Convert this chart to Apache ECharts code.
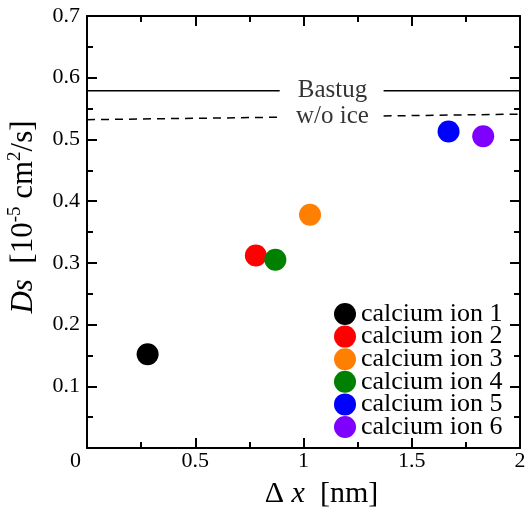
<!DOCTYPE html>
<html>
<head>
<meta charset="utf-8">
<script src="https://cdn.jsdelivr.net/npm/echarts@6/dist/echarts.min.js"></script>
<style>
  html, body { margin: 0; padding: 0; background: #fff; }
  #chart { width: 525px; height: 509px; }
</style>
</head>
<body>
<div id="chart"></div>
<script>
// ion data: [delta x (nm), Ds (1e-5 cm2/s)]
var ionNames = ['calcium ion 1', 'calcium ion 2', 'calcium ion 3', 'calcium ion 4', 'calcium ion 5', 'calcium ion 6'];
var ionColors = ['#000000', '#ff0000', '#ff8000', '#008000', '#0000ff', '#8000ff'];
var ionPoints = [[0.28, 0.152], [0.78, 0.312], [1.03, 0.378], [0.87, 0.305], [1.67, 0.513], [1.83, 0.505]];

// reference lines (split round their labels)
var bastugLeft = [[0, 0.579], [0.89, 0.579]];
var bastugRight = [[1.37, 0.579], [2, 0.579]];
var woIceLeft = [[0, 0.532], [0.89, 0.536]];
var woIceRight = [[1.37, 0.538], [2, 0.541]];
var lineLabels = [['Bastug', 1.134, 0.58], ['w/o ice', 1.134, 0.537]];

var xTicks = [0, 0.5, 1, 1.5, 2];
var yTicks = [0, 0.1, 0.2, 0.3, 0.4, 0.5, 0.6, 0.7];

var FONT = 'Liberation Serif';

var chart = echarts.init(document.getElementById('chart'));

function axisBase() {
  return {
    type: 'value',
    axisLine: { show: true, onZero: false, lineStyle: { color: '#000', width: 2 } },
    axisTick: { show: true, inside: true, length: 10, lineStyle: { color: '#000', width: 2 } },
    minorTick: { show: true, splitNumber: 2, length: 6, lineStyle: { color: '#000', width: 2 } },
    splitLine: { show: false },
    minorSplitLine: { show: false }
  };
}

var xBottom = Object.assign(axisBase(), {
  min: xTicks[0], max: xTicks[xTicks.length - 1], interval: 0.5,
  position: 'bottom',
  axisLabel: {
    color: '#000', fontFamily: FONT, fontSize: 22, margin: 2,
    formatter: function (v) { return v === 0 ? '{z|0}' : String(v); },
    rich: { z: { fontFamily: FONT, fontSize: 22, color: '#000', padding: [0, 23, 0, 0] } }
  },
  name: 'Δ {i|x}  [nm]',
  nameLocation: 'middle',
  nameGap: 31,
  nameTextStyle: {
    color: '#000', fontFamily: FONT, fontSize: 30, padding: [0, 0, 0, 36],
    rich: { i: { fontFamily: FONT, fontSize: 30, fontStyle: 'italic', color: '#000' } }
  }
});

var xTop = Object.assign(axisBase(), {
  min: xTicks[0], max: xTicks[xTicks.length - 1], interval: 0.5,
  position: 'top',
  axisLabel: { show: false }
});

var yLeft = Object.assign(axisBase(), {
  min: yTicks[0], max: yTicks[yTicks.length - 1], interval: 0.1,
  position: 'left',
  axisLabel: {
    color: '#000', fontFamily: FONT, fontSize: 22, margin: 7,
    formatter: function (v) { return v === 0 ? '' : v.toFixed(1); }
  },
  name: '{i|Ds}  [10{s|-5} cm{s|2}/s]',
  nameLocation: 'middle',
  nameGap: 29,
  nameTextStyle: {
    color: '#000', fontFamily: FONT, fontSize: 31, lineHeight: 36, padding: [0, 0, 0, 30],
    rich: {
      i: { fontFamily: FONT, fontSize: 31, fontStyle: 'italic', color: '#000', lineHeight: 36 },
      s: { fontFamily: FONT, fontSize: 19, color: '#000', lineHeight: 36, verticalAlign: 'top' }
    }
  }
});

var yRight = Object.assign(axisBase(), {
  min: yTicks[0], max: yTicks[yTicks.length - 1], interval: 0.1,
  position: 'right',
  axisLabel: { show: false }
});

function refLine(data, dashed) {
  return {
    type: 'line', data: data, symbol: 'none', silent: true,
    lineStyle: { color: '#000', width: 1.5, type: dashed ? [8, 6] : 'solid' },
    z: 1
  };
}

var series = [
  refLine(bastugLeft, false),
  refLine(bastugRight, false),
  refLine(woIceLeft, true),
  refLine(woIceRight, true),
  {
    type: 'scatter', silent: true, symbolSize: 0,
    data: lineLabels.map(function (l) { return { value: [l[1], l[2]], name: l[0] }; }),
    label: {
      show: true, position: 'inside', formatter: '{b}',
      color: '#000', fontFamily: FONT, fontSize: 25
    }
  }
];

ionNames.forEach(function (n, i) {
  series.push({
    name: n, type: 'scatter', symbol: 'circle', symbolSize: 22,
    itemStyle: { color: ionColors[i], opacity: 1 },
    data: [ionPoints[i]], z: 3
  });
});

var option = {
  backgroundColor: '#ffffff',
  animation: false,
  grid: { left: 87, right: 5, top: 16, bottom: 61, containLabel: false, outerBoundsMode: 'none' },
  xAxis: [xBottom, xTop],
  yAxis: [yLeft, yRight],
  legend: {
    data: ionNames.map(function (n) { return { name: n, icon: 'circle' }; }),
    orient: 'vertical',
    left: 334, top: 301,
    itemWidth: 22, itemHeight: 22, itemGap: -3.4, itemTextGap: 16,
    padding: 0,
    textStyle: { color: '#000', fontFamily: FONT, fontSize: 26 }
  },
  series: series
};

chart.setOption(option);
</script>
</body>
</html>
